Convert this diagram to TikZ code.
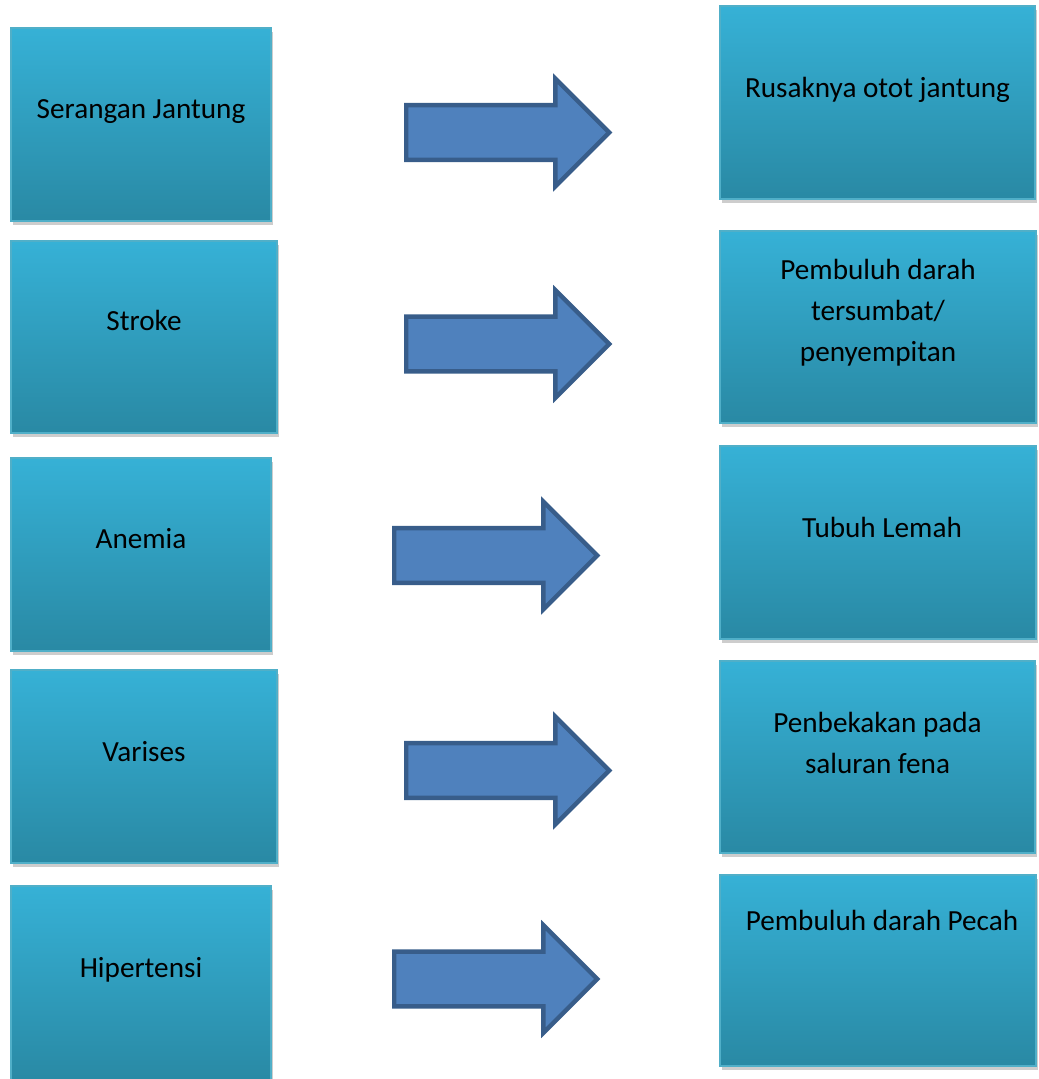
\documentclass[tikz,border=0pt]{standalone}
\usepackage{fontspec}
\setmainfont{Carlito}
\usetikzlibrary{shadows,shapes.arrows}
\definecolor{boxtop}{RGB}{54,177,214}
\definecolor{boxbot}{RGB}{41,137,164}
\definecolor{boxline}{RGB}{80,175,200}
\definecolor{arrfill}{RGB}{79,129,189}
\definecolor{arrline}{RGB}{56,93,138}
\tikzset{
  box/.style={draw=boxline, line width=0.6pt, top color=boxtop, bottom color=boxbot,
    drop shadow={shadow xshift=1.2pt, shadow yshift=-2.2pt, opacity=0.28, fill=black!70}},
  lbl/.style={font=\fontsize{14.6}{20.5}\selectfont, align=center, text=black, inner sep=0pt},
  bigarrow/.style={single arrow, fill=arrfill, draw=arrline, line width=2.2pt, line join=miter,
    minimum height=101.5pt, inner xsep=0pt, inner ysep=12.6pt,
    single arrow head extend=13.2pt, text height=0pt, text depth=0pt}
}
\begin{document}
\begin{tikzpicture}[x=0.5pt,y=-0.5pt]
\useasboundingbox (0,0) rectangle (1038,1079);
% left boxes
\node[box, minimum width=130pt, minimum height=96.5pt] (L1) at (141,124.5) {};
\node[box, minimum width=133pt, minimum height=96pt] (L2) at (144,337) {};
\node[box, minimum width=130pt, minimum height=96.5pt] (L3) at (141,554.5) {};
\node[box, minimum width=133pt, minimum height=96.5pt] (L4) at (144,766.5) {};
\node[box, minimum width=130pt, minimum height=98pt] (L5) at (141,984) {};
% right boxes
\node[box, minimum width=157.5pt, minimum height=96.5pt] (R1) at (877.5,102.5) {};
\node[box, minimum width=158pt, minimum height=96pt] (R2) at (878,327) {};
\node[box, minimum width=158pt, minimum height=96.5pt] (R3) at (878,542.5) {};
\node[box, minimum width=157.5pt, minimum height=96pt] (R4) at (877.5,757) {};
\node[box, minimum width=158pt, minimum height=95.5pt] (R5) at (878,970.5) {};
% left labels
\node[lbl, anchor=base] (t1) at (141,119) {Serangan Jantung};
\node[lbl, anchor=base] (t2) at (144,331) {Stroke};
\node[lbl, anchor=base] (t3) at (141,548) {Anemia};
\node[lbl, anchor=base] (t4) at (144,761) {Varises};
\node[lbl, anchor=base] (t5) at (141,977) {Hipertensi};
% right labels
\node[lbl, anchor=base] (u1) at (877.5,98) {Rusaknya otot jantung};
\node[lbl] (u2) at (878,313) {Pembuluh darah\\tersumbat/\\penyempitan};
\node[lbl, anchor=base] (u3) at (882,537) {Tubuh Lemah};
\node[lbl] (u4) at (877.5,743) {Penbekakan pada\\saluran fena};
\node[lbl, anchor=base] (u5) at (882,930) {Pembuluh darah Pecah};
% arrows
\node[bigarrow] (A1) at (494,132.5) {};
\node[bigarrow] (A2) at (494,344) {};
\node[bigarrow] (A3) at (482,555.5) {};
\node[bigarrow] (A4) at (494,770.5) {};
\node[bigarrow] (A5) at (482,979) {};
\end{tikzpicture}
\end{document}
